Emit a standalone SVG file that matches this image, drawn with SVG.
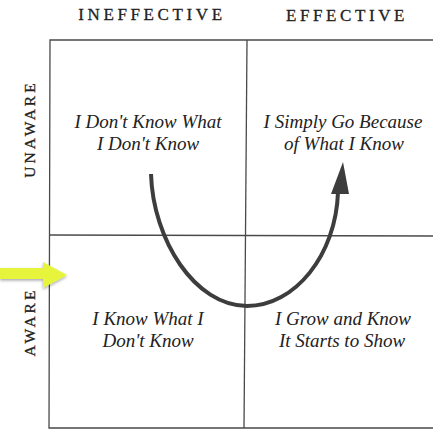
<svg xmlns="http://www.w3.org/2000/svg" width="433" height="430" viewBox="0 0 433 430">
<defs>
<style>
.hdr{font-family:"Liberation Serif","DejaVu Serif",serif;font-size:17px;letter-spacing:3.6px;fill:#222;stroke:#222;stroke-width:0.3;text-anchor:middle}
.side{font-family:"Liberation Serif","DejaVu Serif",serif;font-size:15.5px;letter-spacing:3px;fill:#222;stroke:#222;stroke-width:0.3;text-anchor:middle}
.cell{font-family:"Liberation Serif","DejaVu Serif",serif;font-style:italic;font-size:19px;fill:#222;text-anchor:middle}
.grid{stroke:#4a4a4a;stroke-width:1.3;fill:none}
.arc{stroke:#3d3d3d;stroke-width:4;fill:none;stroke-linecap:butt}
</style>
<filter id="sh" x="-20%" y="-40%" width="140%" height="180%">
<feDropShadow dx="0" dy="1.5" stdDeviation="1.5" flood-color="#000" flood-opacity="0.35"/>
</filter>
</defs>
<rect width="433" height="430" fill="#ffffff"/>
<g id="headers">
<text class="hdr" x="152" y="20">INEFFECTIVE</text>
<text class="hdr" x="347" y="21">EFFECTIVE</text>
<text class="side" transform="translate(35,129) rotate(-90)">UNAWARE</text>
<text class="side" transform="translate(35,322) rotate(-90)">AWARE</text>
</g>
<g id="grid">
<path class="grid" d="M433,40 L50,40 L49,428 L433,428"/>
<path class="grid" d="M247,40 L244,428"/>
<path class="grid" d="M50,235 L433,236"/>
</g>
<g id="q-unaware-ineffective">
<text class="cell" x="148" y="128">I Don't Know What</text>
<text class="cell" x="148" y="150">I Don't Know</text>
</g>
<g id="q-unaware-effective">
<text class="cell" x="343" y="128">I Simply Go Because</text>
<text class="cell" x="344" y="150">of What I Know</text>
</g>
<g id="q-aware-ineffective">
<text class="cell" x="148" y="325">I Know What I</text>
<text class="cell" x="148" y="347">Don't Know</text>
</g>
<g id="q-aware-effective">
<text class="cell" x="343" y="325">I Grow and Know</text>
<text class="cell" x="342" y="347">It Starts to Show</text>
</g>
<g id="connectors">
<path class="arc" d="M151,174 C153,240 195,306 247,306 C295,306 336,255 338,192"/>
<polygon points="343,162 331,194 349,194" fill="#3d3d3d"/>
<polygon filter="url(#sh)" points="0,268 43,268 43,262 67,275 43,288 43,279 0,279" fill="#e6f53a"/>
</g>
</svg>
